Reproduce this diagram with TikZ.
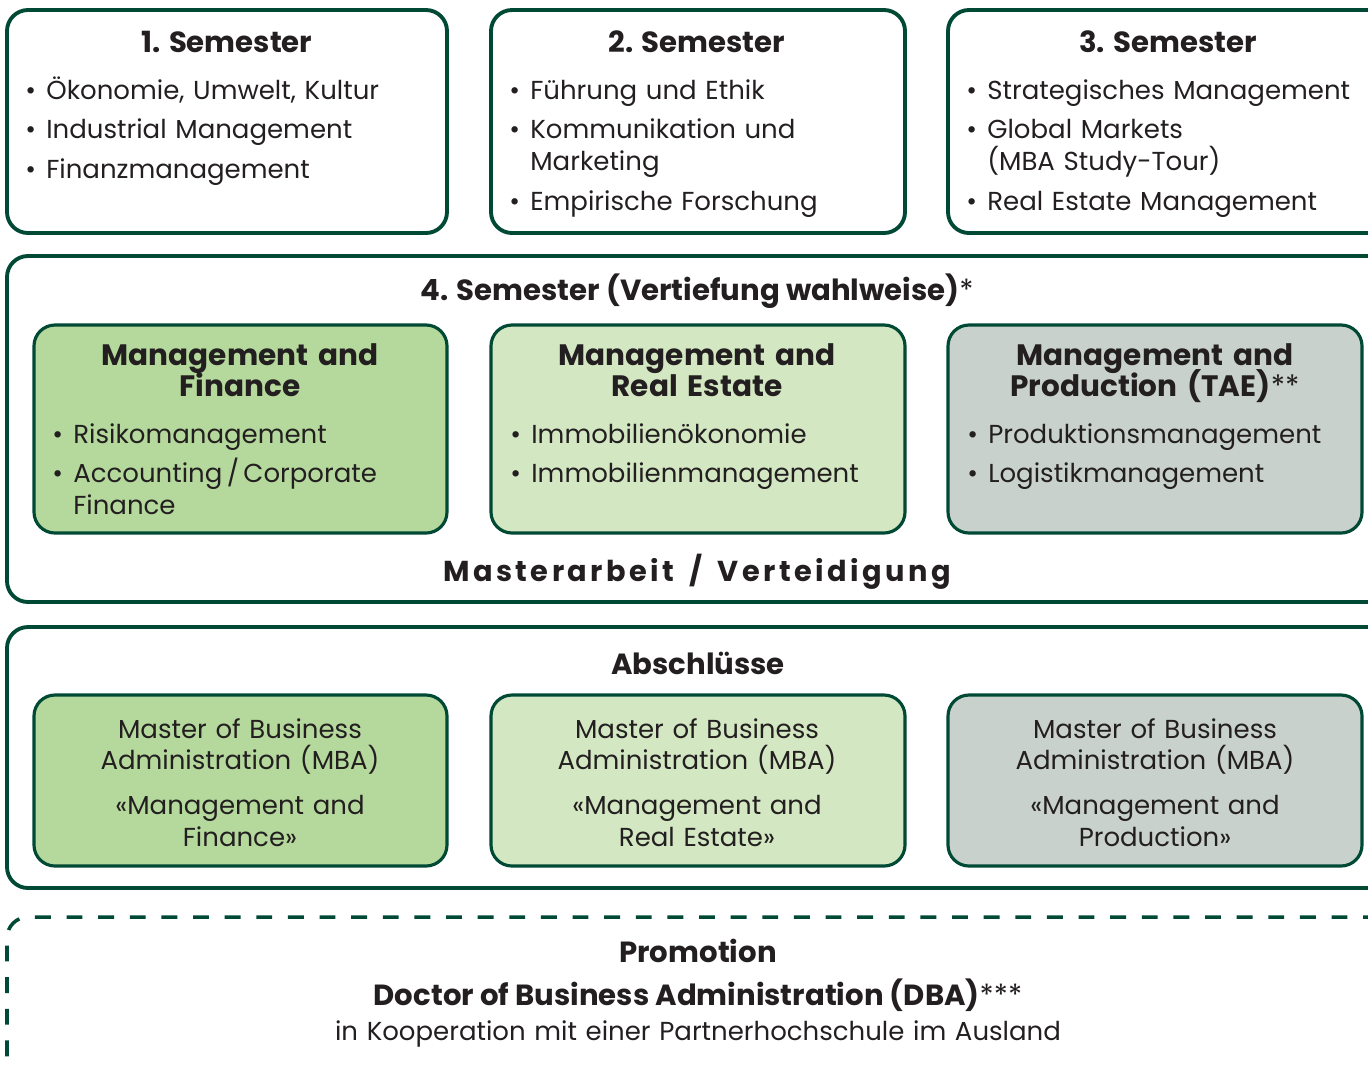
\documentclass[tikz,border=0pt]{standalone}
\usepackage{fontspec}
\setmainfont{Poppins}
\usetikzlibrary{positioning,fit}

\definecolor{rahmen}{HTML}{004A35}
\definecolor{gruen}{HTML}{B5D99C}
\definecolor{hellgruen}{HTML}{D3E8C2}
\definecolor{grau}{HTML}{C8D1CC}
\definecolor{schrift}{HTML}{231F20}

\newcommand{\pkt}{\makebox[0.42cm][l]{\textbullet}}
\newcommand{\ein}{\hspace*{0.42cm}}
\newcommand{\eng}{\lineskiplimit-100pt\relax}

\begin{document}
\begin{tikzpicture}[
  x=0.02cm, y=-0.02cm,
  rahmenbox/.style={draw=rahmen, line width=2.2pt, rounded corners=0.42cm, inner sep=0pt},
  innenbox/.style={draw=rahmen, line width=1.8pt, rounded corners=0.42cm, inner sep=0pt},
  strichbox/.style={draw=rahmen, line width=2pt, dashed, dash pattern=on 9pt off 9pt, rounded corners=0.42cm, inner sep=0pt},
  titel/.style={anchor=base, inner sep=0pt, text=schrift, font=\fontsize{16.6}{18.2}\selectfont\bfseries},
  kopf/.style={anchor=base, inner sep=0pt, text=schrift, text width=8cm, align=center,
               font=\fontsize{16.8}{18.2}\selectfont\bfseries\eng},
  punkte/.style={anchor=base west, inner sep=0pt, text=schrift, text width=8cm, align=left,
                 font=\fontsize{14.8}{18.2}\selectfont\eng},
  abschluss/.style={anchor=base, inner sep=0pt, text=schrift, text width=8cm, align=center,
                    font=\fontsize{14.8}{18.2}\selectfont\eng}
]
\useasboundingbox (0,0) rectangle (1368,1066);
\clip (0,0) rectangle (1368,1066);

% Semester 1 bis 3
\node[rahmenbox, fit={(7,10) (447,233)}] (sem1) {};
\node[rahmenbox, fit={(491,10) (905,233)}] (sem2) {};
\node[rahmenbox, fit={(948,10) (1400,233)}] (sem3) {};

\node[titel] (sem1titel) at (227,52) {1. Semester};
\node[titel] (sem2titel) at (697,52) {2. Semester};
\node[titel] (sem3titel) at (1168,52) {3. Semester};

\node[punkte] (sem1liste) at (25,99) {%
  \pkt Ökonomie, Umwelt, Kultur\\[4.5pt]
  \pkt Industrial Management\\[4.5pt]
  \pkt Finanzmanagement};
\node[punkte] (sem2liste) at (509,99) {%
  \pkt Führung und Ethik\\[4.5pt]
  \pkt Kommunikation und\\
  \ein Marketing\\[4.5pt]
  \pkt Empirische Forschung};
\node[punkte] (sem3liste) at (966,99) {%
  \pkt Strategisches Management\\[4.5pt]
  \pkt Global Markets\\
  \ein (MBA Study-Tour)\\[4.5pt]
  \pkt Real Estate Management};

% Semester 4
\node[rahmenbox, fit={(7,256) (1400,602)}] (sem4) {};
\node[titel] (sem4titel) at (697,300) {4. Semester (Vertiefung wahlweise)\textmd{*}};

\node[innenbox, fill=gruen, fit={(34,325) (447,533)}] (vfin) {};
\node[innenbox, fill=hellgruen, fit={(491,325) (905,533)}] (vre) {};
\node[innenbox, fill=grau, fit={(948,325) (1362,533)}] (vprod) {};

\node[kopf] (vfinkopf) at (240,365) {Management and\\Finance};
\node[kopf] (vrekopf) at (697,365) {Management and\\Real Estate};
\node[kopf] (vprodkopf) at (1155,365) {Management and\\Production (TAE)\textmd{**}};

\node[punkte] (vfinliste) at (52,443) {%
  \pkt Risikomanagement\\[4.5pt]
  \pkt Accounting\,/\,Corporate\\
  \ein Finance};
\node[punkte] (vreliste) at (510,443) {%
  \pkt Immobilienökonomie\\[4.5pt]
  \pkt Immobilienmanagement};
\node[punkte] (vprodliste) at (967,443) {%
  \pkt Produktionsmanagement\\[4.5pt]
  \pkt Logistikmanagement};

\node[titel, font=\fontsize{16.4}{18.2}\selectfont\bfseries\addfontfeature{LetterSpace=12}] (master) at (697,581)
  {Masterarbeit\hspace{0.3cm}/\hspace{0.3cm}Verteidigung};

% Abschluesse
\node[rahmenbox, fit={(7,627) (1400,888)}] (absch) {};
\node[titel] (abschtitel) at (698,674) {Abschlüsse};

\node[innenbox, fill=gruen, fit={(34,695) (447,866)}] (mbafin) {};
\node[innenbox, fill=hellgruen, fit={(491,695) (905,866)}] (mbare) {};
\node[innenbox, fill=grau, fit={(948,695) (1362,866)}] (mbaprod) {};

\node[abschluss] (mbafintext) at (240,738) {Master of Business\\Administration (MBA)\\[7.4pt]«Management and\\Finance»};
\node[abschluss] (mbaretext) at (697,738) {Master of Business\\Administration (MBA)\\[7.4pt]«Management and\\Real Estate»};
\node[abschluss] (mbaprodtext) at (1155,738) {Master of Business\\Administration (MBA)\\[7.4pt]«Management and\\Production»};

% Promotion
\node[strichbox, fit={(7,917) (1400,1120)}] (promo) {};
\node[titel] (promotitel) at (698,962) {Promotion};
\node[titel] (dba) at (698,1005) {Doctor of Business Administration (DBA)\textmd{***}};
\node[abschluss, text width=20cm] (koop) at (698,1040) {in Kooperation mit einer Partnerhochschule im Ausland};

\end{tikzpicture}
\end{document}
